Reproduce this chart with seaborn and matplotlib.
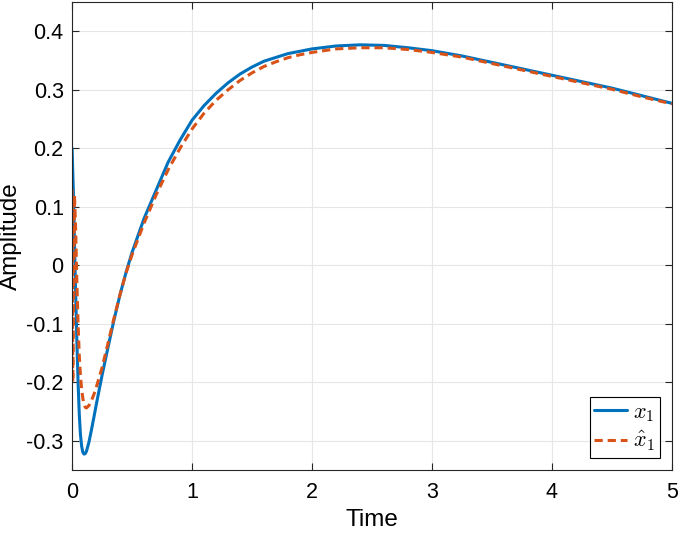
import numpy as np
import pandas as pd
import seaborn as sns
import matplotlib.pyplot as plt

# state x1
t_x = [0, 0.01, 0.02, 0.03, 0.04, 0.05, 0.06, 0.07, 0.08, 0.09, 0.10, 0.11,
       0.12, 0.14, 0.16, 0.18, 0.20, 0.25, 0.30, 0.35, 0.40, 0.45, 0.50,
       0.60, 0.70, 0.80, 0.90, 1.00, 1.10, 1.20, 1.30, 1.40, 1.50, 1.60,
       1.70, 1.80, 1.90, 2.00, 2.20, 2.40, 2.60, 2.80, 3.00, 3.25, 3.50,
       3.75, 4.00, 4.25, 4.50, 4.75, 5.00]
x1 = [0.200, 0.130, 0.040, -0.050, -0.130, -0.200, -0.255, -0.290, -0.310,
      -0.320, -0.323, -0.322, -0.318, -0.303, -0.283, -0.262, -0.240,
      -0.188, -0.140, -0.093, -0.050, -0.012, 0.022, 0.080, 0.128, 0.176,
      0.214, 0.248, 0.273, 0.294, 0.312, 0.327, 0.339, 0.349, 0.3555, 0.362,
      0.366, 0.370, 0.375, 0.377, 0.376, 0.372, 0.367, 0.358, 0.347, 0.336,
      0.325, 0.314, 0.303, 0.290, 0.277]

# estimate x1_hat
t_xh = [0, 0.006, 0.02, 0.03, 0.04, 0.05, 0.06, 0.07, 0.08, 0.09, 0.10,
        0.11, 0.12, 0.14, 0.16, 0.18, 0.20, 0.25, 0.30, 0.35, 0.40, 0.45,
        0.50, 0.60, 0.70, 0.80, 0.90, 1.00, 1.10, 1.20, 1.30, 1.40, 1.50,
        1.60, 1.70, 1.80, 1.90, 2.00, 2.20, 2.40, 2.60, 2.80, 3.00, 3.25,
        3.50, 3.75, 4.00, 4.25, 4.50, 4.75, 5.00]
x1_hat = [0.130, -0.200, 0.120, 0.060, -0.030, -0.100, -0.155, -0.190,
          -0.212, -0.228, -0.238, -0.243, -0.244, -0.240, -0.232, -0.222,
          -0.210, -0.175, -0.133, -0.090, -0.050, -0.013, 0.018, 0.072,
          0.120, 0.163, 0.200, 0.233, 0.260, 0.282, 0.300, 0.316, 0.329,
          0.340, 0.348, 0.355, 0.360, 0.364, 0.370, 0.372, 0.372, 0.369,
          0.364, 0.356, 0.345, 0.334, 0.323, 0.312, 0.301, 0.288, 0.276]

yticks = [-0.3, -0.2, -0.1, 0, 0.1, 0.2, 0.3, 0.4]
ytick_labels = ["-0.3", "-0.2", "-0.1", "0", "0.1", "0.2", "0.3", "0.4"]
xticks = [0, 1, 2, 3, 4, 5]

df_x = pd.DataFrame({"t": t_x, "v": x1})
df_xh = pd.DataFrame({"t": t_xh, "v": x1_hat})

sns.set_theme(style="whitegrid")
plt.rcParams.update({
    "font.family": ["Liberation Sans", "DejaVu Sans"],
    "mathtext.fontset": "cm",
    "axes.unicode_minus": False,
    "xtick.direction": "in",
    "ytick.direction": "in",
    "text.color": "black",
    "axes.labelcolor": "black",
})

fig = plt.figure(figsize=(6.8, 5.34), dpi=100)
ax = fig.add_axes([0.106, 0.12, 0.882, 0.876])

sns.lineplot(data=df_x, x="t", y="v", ax=ax, color="#0072BD", lw=2.2,
             label="$x_1$")
sns.lineplot(data=df_xh, x="t", y="v", ax=ax, color="#D95319", lw=2.2,
             linestyle=(0, (2.7, 1.6)), label=r"$\hat{x}_1$")

ax.set_xlim(0, 5)
ax.set_ylim(-0.35, 0.45)
ax.set_xticks(xticks)
ax.set_xticklabels([str(v) for v in xticks])
ax.set_yticks(yticks)
ax.set_yticklabels(ytick_labels)
ax.tick_params(axis="both", labelsize=15.5, length=5, width=0.8,
               color="#262626", labelcolor="black", top=True, right=True,
               bottom=True, left=True)
ax.tick_params(axis="x", pad=9)
ax.tick_params(axis="y", pad=6)
ax.grid(True, color="#e6e6e6", lw=0.8)
for s in ax.spines.values():
    s.set_color("#262626")
    s.set_linewidth(0.8)

ax.set_xlabel("Time", fontsize=17.5, labelpad=4)
ax.set_ylabel("Amplitude", fontsize=17.5, labelpad=3)

leg = ax.legend(loc="lower right", fontsize=16, frameon=True, fancybox=False,
                edgecolor="black", framealpha=1, borderaxespad=0.55,
                handlelength=1.5, handletextpad=0.25, borderpad=0.2,
                labelspacing=0.25)
leg.get_frame().set_linewidth(0.8)

fig.savefig("out.png", dpi=100)
